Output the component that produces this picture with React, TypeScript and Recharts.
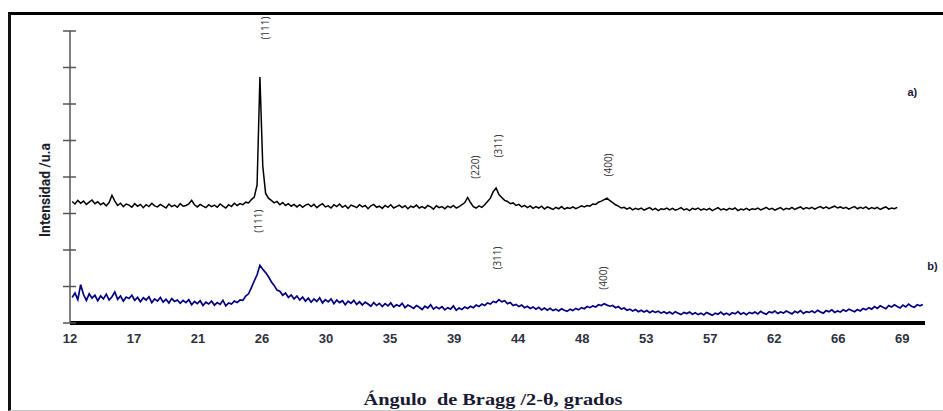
import React from 'react';
import { LineChart, Line, XAxis, YAxis, ReferenceDot } from 'recharts';

// 2-theta sampling grid of the diffractograms
const angleStart = 12.15;
const angleStep = 0.2;

// a) black diffractogram (arbitrary units)
const intensityA = [
  3.33, 3.26, 3.36, 3.28, 3.34, 3.25, 3.31, 3.37, 3.27, 3.32,
  3.24, 3.29, 3.21, 3.30, 3.50, 3.34, 3.22, 3.28, 3.19, 3.26,
  3.23, 3.17, 3.27, 3.20, 3.25, 3.16, 3.24, 3.19, 3.28, 3.21,
  3.18, 3.25, 3.20, 3.15, 3.26, 3.19, 3.23, 3.17, 3.27, 3.20,
  3.22, 3.26, 3.36, 3.24, 3.18, 3.25, 3.20, 3.16, 3.24, 3.19,
  3.23, 3.17, 3.26, 3.20, 3.15, 3.24, 3.19, 3.28, 3.22, 3.27,
  3.24, 3.31, 3.29, 3.38, 3.45, 3.78, 6.74, 4.30, 3.55, 3.42,
  3.36, 3.29, 3.33, 3.24, 3.30, 3.22, 3.27, 3.20, 3.25, 3.18,
  3.24, 3.17, 3.23, 3.26, 3.19, 3.25, 3.16, 3.22, 3.27, 3.18,
  3.21, 3.15, 3.24, 3.19, 3.26, 3.17, 3.22, 3.14, 3.23, 3.20,
  3.16, 3.24, 3.18, 3.22, 3.13, 3.21, 3.25, 3.17, 3.20, 3.14,
  3.22, 3.17, 3.24, 3.15, 3.19, 3.23, 3.16, 3.21, 3.13, 3.20,
  3.17, 3.23, 3.15, 3.19, 3.14, 3.22, 3.18, 3.12, 3.21, 3.16,
  3.19, 3.13, 3.20, 3.16, 3.22, 3.15, 3.19, 3.24, 3.30, 3.44,
  3.30, 3.19, 3.15, 3.21, 3.17, 3.24, 3.33, 3.42, 3.60, 3.70,
  3.52, 3.44, 3.36, 3.33, 3.27, 3.29, 3.22, 3.25, 3.18, 3.22,
  3.16, 3.21, 3.14, 3.19, 3.15, 3.20, 3.12, 3.18, 3.15, 3.11,
  3.17, 3.13, 3.19, 3.12, 3.16, 3.14, 3.18, 3.13, 3.17, 3.21,
  3.18, 3.22, 3.20, 3.26, 3.25, 3.31, 3.34, 3.38, 3.42, 3.35,
  3.30, 3.24, 3.20, 3.15, 3.17, 3.12, 3.16, 3.10, 3.14, 3.11,
  3.15, 3.09, 3.13, 3.16, 3.10, 3.14, 3.08, 3.13, 3.11, 3.15,
  3.10, 3.14, 3.09, 3.12, 3.16, 3.10, 3.13, 3.08, 3.14, 3.11,
  3.15, 3.09, 3.13, 3.10, 3.14, 3.08, 3.12, 3.16, 3.10, 3.13,
  3.09, 3.14, 3.11, 3.15, 3.08, 3.12, 3.10, 3.14, 3.09, 3.13,
  3.11, 3.15, 3.10, 3.13, 3.17, 3.11, 3.14, 3.09, 3.13, 3.16,
  3.10, 3.14, 3.12, 3.17, 3.11, 3.15, 3.18, 3.12, 3.16, 3.13,
  3.17, 3.12, 3.16, 3.19, 3.14, 3.18, 3.13, 3.17, 3.20, 3.15,
  3.18, 3.14, 3.17, 3.12, 3.16, 3.19, 3.13, 3.17, 3.14, 3.18,
  3.12, 3.16, 3.13, 3.17, 3.11, 3.15, 3.18, 3.12, 3.15, 3.13,
  3.17,
];

// b) blue diffractogram (arbitrary units)
const intensityB = [
  0.70, 0.82, 0.64, 1.05, 0.78, 0.62, 0.80, 0.68, 0.76, 0.61,
  0.74, 0.66, 0.79, 0.63, 0.72, 0.85, 0.65, 0.74, 0.60, 0.71,
  0.67, 0.76, 0.62, 0.70, 0.58, 0.69, 0.63, 0.72, 0.56, 0.66,
  0.60, 0.70, 0.57, 0.65, 0.55, 0.67, 0.59, 0.63, 0.54, 0.62,
  0.56, 0.64, 0.50, 0.59, 0.53, 0.61, 0.48, 0.57, 0.52, 0.60,
  0.49, 0.56, 0.51, 0.62, 0.47, 0.55, 0.52, 0.60, 0.56, 0.63,
  0.62, 0.74, 0.80, 0.97, 1.15, 1.32, 1.58, 1.47, 1.38, 1.27,
  1.13, 1.03, 0.90, 0.87, 0.76, 0.82, 0.70, 0.77, 0.66, 0.74,
  0.63, 0.71, 0.60, 0.68, 0.57, 0.66, 0.59, 0.69, 0.55, 0.64,
  0.58, 0.66, 0.53, 0.63, 0.56, 0.61, 0.50, 0.60, 0.54, 0.62,
  0.51, 0.58, 0.49, 0.57, 0.52, 0.46, 0.56, 0.48, 0.54, 0.45,
  0.53, 0.47, 0.55, 0.44, 0.50, 0.46, 0.54, 0.42, 0.49, 0.45,
  0.40, 0.48, 0.43, 0.37, 0.46, 0.41, 0.50, 0.38, 0.44, 0.39,
  0.45, 0.36, 0.42, 0.38, 0.47, 0.35, 0.41, 0.37, 0.44, 0.40,
  0.46, 0.42, 0.49, 0.45, 0.52, 0.48, 0.55, 0.52, 0.59, 0.56,
  0.64, 0.58, 0.61, 0.53, 0.56, 0.48, 0.51, 0.45, 0.49, 0.42,
  0.46, 0.40, 0.44, 0.38, 0.43, 0.36, 0.41, 0.35, 0.40, 0.34,
  0.38, 0.33, 0.39, 0.35, 0.32, 0.38, 0.34, 0.40, 0.36, 0.42,
  0.39, 0.45, 0.42, 0.47, 0.44, 0.50, 0.48, 0.53, 0.49, 0.46,
  0.48, 0.42, 0.45, 0.38, 0.41, 0.35, 0.38, 0.33, 0.37, 0.31,
  0.35, 0.30, 0.34, 0.28, 0.33, 0.29, 0.32, 0.27, 0.31, 0.26,
  0.30, 0.25, 0.31, 0.27, 0.23, 0.29, 0.26, 0.30, 0.24, 0.28,
  0.23, 0.27, 0.22, 0.29, 0.25, 0.21, 0.27, 0.24, 0.30, 0.23,
  0.27, 0.22, 0.28, 0.25, 0.31, 0.24, 0.28, 0.23, 0.29, 0.26,
  0.30, 0.25, 0.32, 0.27, 0.24, 0.31, 0.28, 0.33, 0.26, 0.30,
  0.27, 0.33, 0.29, 0.25, 0.32, 0.28, 0.34, 0.26, 0.31, 0.29,
  0.33, 0.28, 0.35, 0.30, 0.27, 0.34, 0.31, 0.36, 0.29, 0.33,
  0.30, 0.36, 0.32, 0.38, 0.34, 0.31, 0.37, 0.33, 0.40, 0.36,
  0.42, 0.38, 0.45, 0.40, 0.47, 0.43, 0.39, 0.48, 0.44, 0.50,
  0.45, 0.41, 0.49, 0.44, 0.52, 0.46, 0.43, 0.50, 0.47, 0.51,
];

const xTickPositions = [12, 16.5, 21, 25.5, 30, 34.5, 39, 43.5, 48, 52.5, 57, 61.5, 66, 70.5];
const xTickLabels = ['12', '17', '21', '26', '30', '35', '39', '44', '48', '53', '57', '62', '66', '69'];
const yTicks = [0, 1, 2, 3, 4, 5, 6, 7, 8];

// Miller-index annotations
const peakLabelText = ['(111)', '(220)', '(311)', '(400)', '(111)', '(311)', '(400)'];
const peakLabelAngle = [25.71, 40.48, 42.1, 49.83, 25.22, 42.03, 49.48];
const peakLabelHeight = [8.08, 4.27, 4.85, 4.33, 2.79, 1.78, 1.23];

// series tags
const seriesNames = ['a)', 'b)'];
const seriesNameAngle = [71.21, 72.62];
const seriesNameHeight = [6.33, 1.56];

const dataA = intensityA.map((v, i) => ({ angle: +(angleStart + i * angleStep).toFixed(2), a: v }));
const dataB = intensityB.map((v, i) => ({ angle: +(angleStart + i * angleStep).toFixed(2), b: v }));

const YTick = (props: any) => {
  const { x, y } = props;
  return <line x1={x - 7} x2={x + 6} y1={y} y2={y} stroke="#555" strokeWidth={1.5} />;
};

const XTick = (props: any) => {
  const { x, y, payload } = props;
  const idx = xTickPositions.indexOf(payload.value);
  return (
    <text x={x} y={y} dy="0.71em" textAnchor="middle" fontFamily="Liberation Sans, Arial, sans-serif"
      fontWeight={700} fontSize={13} fill="#2d3140">
      {idx >= 0 ? xTickLabels[idx] : ''}
    </text>
  );
};

const rotatedLabel = (text: string) => (p: any) => (
  <text x={p.cx} y={p.cy} transform={`rotate(-90 ${p.cx} ${p.cy})`} textAnchor="middle"
    dominantBaseline="central" fontFamily="Open Sans, sans-serif" fontSize={10} fill="#333">
    {text}
  </text>
);

const tagLabel = (text: string) => (p: any) => (
  <text x={p.cx} y={p.cy} textAnchor="middle" dominantBaseline="central"
    fontFamily="Liberation Sans, Arial, sans-serif" fontWeight={700} fontSize={11} fill="#1a1a33">
    {text}
  </text>
);

export default function App() {
  return (
    <div style={{ position: 'absolute', left: 0, top: 0, width: 943, height: 411, overflow: 'hidden', background: '#fff' }}>
      <div style={{
        position: 'absolute', left: 8, top: 12, width: 950, height: 395,
        borderTop: '3px solid #000', borderLeft: '3px solid #111', borderBottom: '1px solid #c8c8c8',
      }} />
      <div style={{ position: 'absolute', left: 0, top: 0 }}>
        <LineChart width={943} height={411} margin={{ top: 31, right: 18, bottom: 0, left: 50 }}
          style={{ fontFamily: 'Liberation Sans, Arial, sans-serif' }}>
          <XAxis type="number" dataKey="angle" domain={[12, 72.1]} ticks={xTickPositions}
            interval={0} height={88} tickSize={0} tickMargin={11} tickLine={false}
            axisLine={{ stroke: '#000', strokeWidth: 4 }} tick={<XTick />} allowDataOverflow />
          <YAxis type="number" domain={[0, 8]} ticks={yTicks} width={20} tickSize={0} tickMargin={0}
            interval={0} tickLine={false} axisLine={{ stroke: '#555', strokeWidth: 1.5 }} tick={<YTick />} />
          <Line data={dataA} dataKey="a" type="linear" dot={false} stroke="#000" strokeWidth={1.5}
            isAnimationActive={false} />
          <Line data={dataB} dataKey="b" type="linear" dot={false} stroke="#00007f" strokeWidth={1.7}
            isAnimationActive={false} />
          {peakLabelText.map((t, i) => (
            <ReferenceDot key={'p' + i} x={peakLabelAngle[i]} y={peakLabelHeight[i]} r={1}
              ifOverflow="visible" shape={rotatedLabel(t)} />
          ))}
          {seriesNames.map((t, i) => (
            <ReferenceDot key={'s' + i} x={seriesNameAngle[i]} y={seriesNameHeight[i]} r={1}
              ifOverflow="visible" shape={tagLabel(t)} />
          ))}
        </LineChart>
      </div>
      <svg width={943} height={411} style={{ position: 'absolute', left: 0, top: 0, pointerEvents: 'none' }}>
        <text x={50} y={190} transform="rotate(-90 50 190)" textAnchor="middle"
          fontFamily="Roboto, sans-serif" fontWeight={700} fontSize={15} fill="#1c1c2c"
          textLength={94} lengthAdjust="spacingAndGlyphs">Intensidad /u.a</text>
        <text x={493} y={405} textAnchor="middle" fontFamily="Liberation Serif, Times New Roman, serif"
          fontWeight={700} fontSize={17} fill="#1a1a33" textLength={259} style={{ whiteSpace: 'pre' }}
          lengthAdjust="spacingAndGlyphs">Ángulo  de Bragg /2-θ, grados</text>
      </svg>
    </div>
  );
}
